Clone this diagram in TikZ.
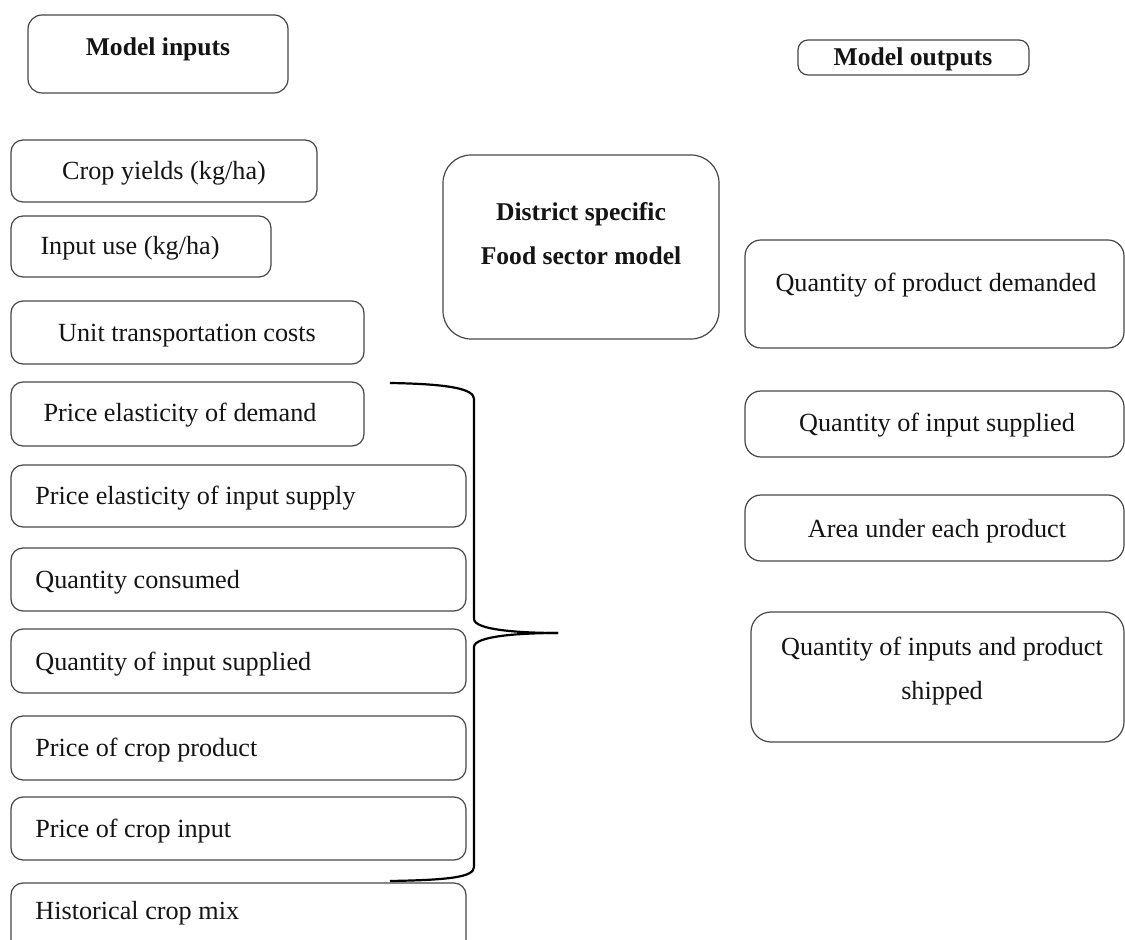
\documentclass[tikz,border=0pt]{standalone}
\usepackage{fontspec}
\setmainfont{Liberation Serif}
\usetikzlibrary{fit,positioning,calc}
\definecolor{frame}{RGB}{70,70,70}
\definecolor{ink}{RGB}{20,20,20}
\tikzset{
  box/.style={draw=frame,line width=0.6pt,rounded corners=#1,inner sep=0pt},
  box/.default=6pt,
  lbl/.style={font=\fontsize{13.1}{15}\selectfont,text=ink,inner sep=0pt,
    text height=12pt,text depth=3pt},
  head/.style={lbl,font=\fontsize{12.8}{15}\selectfont\bfseries},
  brace line/.style={draw=black,line width=1.1pt},
}

\begin{document}
\begin{tikzpicture}[x=0.5pt,y=-0.5pt]
  \clip (0,0) rectangle (1125,940);
  % headings
  \node[box=7pt,fit={(28,15) (288,93)}] (inp) {};
  \node[head] (inp-t) at (158,47) {Model inputs};
  \node[box=5pt,fit={(798,40) (1029,75)}] (out) {};
  \node[head] (out-t) at (913,57) {Model outputs};
  % model inputs, centred labels
  \foreach \n/\r/\t/\b/\x/\y/\s in {cy/317/140/202/164/171/{Crop yields (kg/ha)},
      iu/271/216/277/130/246/{Input use (kg/ha)},
      utc/364/301/364/187/333/{Unit transportation costs},
      ped/364/382/446/180/413/{Price elasticity of demand}}{
    \node[box,fit={(11,\t) (\r,\b)}] (\n) {};
    \node[lbl] (\n-t) at (\x,\y) {\s};
  }
  % model inputs, labels to the left
  \foreach \n/\t/\b/\y/\s in {peis/465/527/496/Price elasticity of input supply,
      qc/548/611/580/Quantity consumed,
      qis/629/693/662/Quantity of input supplied,
      pcp/716/780/747/Price of crop product,
      pci/797/860/828/Price of crop input,
      hcm/883/960/910/Historical crop mix}{
    \node[box,fit={(11,\t) (466,\b)}] (\n) {};
    \node[lbl,anchor=west] (\n-t) at (35,\y) {\s};
  }
  % the model
  \node[box=14pt,fit={(443,155) (719,339)}] (dsm) {};
  \node[head,align=center,text height=,text depth=] (dsm-t) at (581,234)
    {District specific\\[7pt]Food sector model};
  % model outputs
  \node[box=8pt,fit={(745,240) (1124,348)}] (qpd) {};
  \node[lbl] (qpd-t) at (936,283) {Quantity of product demanded};
  \node[box=8pt,fit={(745,391) (1124,457)}] (qis2) {};
  \node[lbl] (qis2-t) at (937,423) {Quantity of input supplied};
  \node[box=8pt,fit={(745,495) (1124,561)}] (auep) {};
  \node[lbl] (auep-t) at (937,529) {Area under each product};
  \node[box=10pt,fit={(751,612) (1124,742)}] (qips) {};
  \node[lbl,align=center,text height=,text depth=] (qips-t) at (942,671)
    {Quantity of inputs and product\\[7pt]shipped};
  % brace over the elasticities and prices
  \coordinate (br-top) at (390,383);
  \coordinate (br-tip) at (558,633);
  \coordinate (br-bot) at (390,881);
  \draw[brace line] (br-top) .. controls (450,384) and (474,389) .. (474,399)
    -- (474,619) .. controls (474,630) and (520,633) .. (br-tip);
  \draw[brace line] (br-tip) .. controls (520,633) and (474,636) .. (474,647)
    -- (474,867) .. controls (474,877) and (450,880) .. (br-bot);
\end{tikzpicture}
\end{document}
